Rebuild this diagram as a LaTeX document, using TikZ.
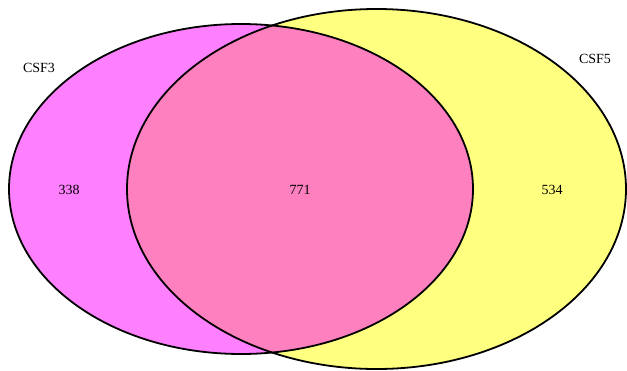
\documentclass[tikz,border=0pt]{standalone}
\usepackage{fontspec}
\setmainfont{Liberation Serif}
\begin{document}
\begin{tikzpicture}[x=1pt,y=-1pt,
  lbl/.style={font=\fontsize{14}{16}\selectfont, text=black, inner sep=0pt},
  outline/.style={draw=black, line width=1.8pt}]
\useasboundingbox (0,0) rectangle (627,370);
\coordinate (cA) at (241,189);
\coordinate (cB) at (376.5,189);
\fill[fill={rgb,255:red,255;green,128;blue,255}] (cA) ellipse [x radius=232, y radius=165];
\fill[fill={rgb,255:red,255;green,255;blue,128}] (cB) ellipse [x radius=249.5, y radius=180];
\begin{scope}
  \clip (cA) ellipse [x radius=232, y radius=165];
  \fill[fill={rgb,255:red,255;green,128;blue,191}] (cB) ellipse [x radius=249.5, y radius=180];
\end{scope}
\draw[outline] (cA) ellipse [x radius=232, y radius=165];
\draw[outline] (cB) ellipse [x radius=249.5, y radius=180];
\node[lbl] (nA) at (39,68) {CSF3};
\node[lbl] (nB) at (595,59) {CSF5};
\node[lbl] (vA) at (69,190) {338};
\node[lbl] (vAB) at (300,190) {771};
\node[lbl] (vB) at (552,190) {534};
\end{tikzpicture}
\end{document}
